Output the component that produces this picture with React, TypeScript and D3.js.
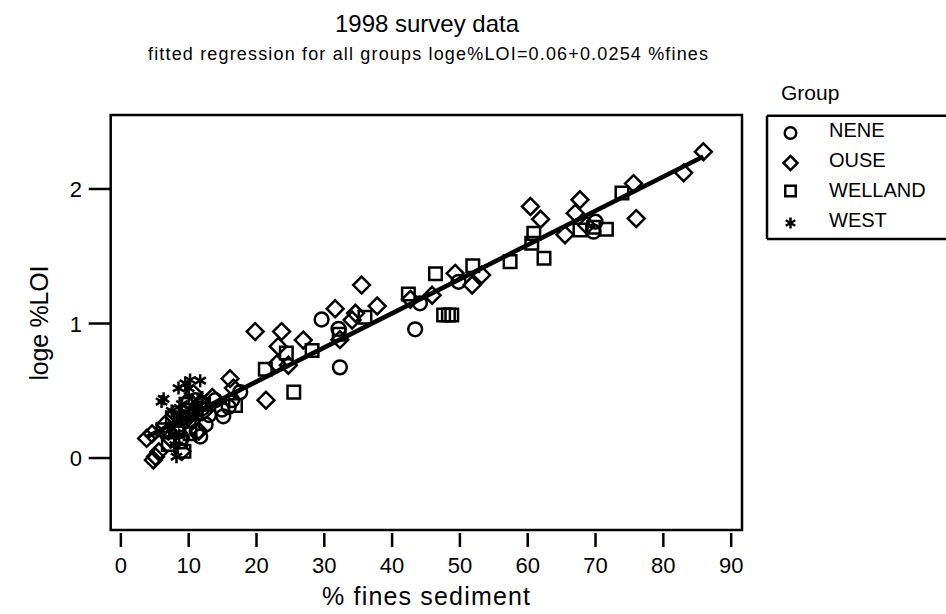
import React from "react";
import * as d3 from "d3";

const WIDTH = 946,
  HEIGHT = 614;
const FONT = "'Liberation Sans', Arial, sans-serif";

// chart text
const TITLE = "1998 survey data";
const SUBTITLE = "fitted regression for all groups loge%LOI=0.06+0.0254 %fines";
const X_LABEL = "% fines sediment";
const Y_LABEL = "loge %LOI";
const LEGEND_TITLE = "Group";
const GROUPS = ["NENE", "OUSE", "WELLAND", "WEST"];

const X_TICKS = [0, 10, 20, 30, 40, 50, 60, 70, 80, 90];
const Y_TICKS = [0, 1, 2];

// fitted regression for all groups
const INTERCEPT = 0.06,
  SLOPE = 0.0254;

// [% fines, loge %LOI]
const nene = [
  [8.5, 0.2], [9.2, 0.3], [9.8, 0.35], [10.5, 0.28], [11.2, 0.2], [11.7, 0.16],
  [12.0, 0.37], [11.0, 0.43], [13.9, 0.43], [14.9, 0.36], [15.1, 0.31], [15.9, 0.38],
  [16.4, 0.43], [17.6, 0.49], [12.5, 0.25], [10.0, 0.42], [9.0, 0.15], [13.0, 0.32],
  [29.6, 1.03], [32.1, 0.96], [32.3, 0.674], [43.4, 0.957], [44.1, 1.15], [49.8, 1.31],
  [70.0, 1.757], [69.7, 1.683]
];
const ouse = [
  [3.8, 0.146], [4.6, 0.18], [5.1, 0.01], [5.6, 0.047], [4.8, -0.015], [6.5, 0.25],
  [7.2, 0.15], [8.0, 0.33], [9.5, 0.28], [10.7, 0.48], [11.5, 0.2], [12.3, 0.35],
  [13.5, 0.45], [16.1, 0.59], [16.6, 0.52], [9.0, 0.05], [7.0, 0.2], [19.8, 0.94],
  [23.7, 0.94], [21.4, 0.43], [23.2, 0.83], [23.0, 0.7], [24.7, 0.69], [26.9, 0.877],
  [31.6, 1.11], [34.6, 1.076], [34.1, 1.026], [35.5, 1.286], [37.8, 1.13], [32.3, 0.88],
  [42.7, 1.18], [45.9, 1.21], [49.3, 1.373], [53.2, 1.36], [51.8, 1.286], [60.4, 1.87],
  [61.9, 1.775], [65.5, 1.66], [67.7, 1.92], [67.0, 1.82], [68.7, 1.73], [75.6, 2.04],
  [76.0, 1.78], [83.0, 2.12], [85.9, 2.277]
];
const welland = [
  [6.2, 0.21], [7.0, 0.1], [7.6, 0.3], [8.3, 0.22], [8.8, 0.12], [9.3, 0.05],
  [9.6, 0.4], [10.2, 0.18], [11.0, 0.33], [12.2, 0.4], [8.8, 0.28], [16.9, 0.39],
  [21.3, 0.66], [24.4, 0.78], [25.5, 0.49], [28.2, 0.8], [32.2, 0.92], [36.0, 1.046],
  [42.4, 1.22], [46.4, 1.37], [47.6, 1.063], [48.3, 1.063], [48.8, 1.063], [51.9, 1.43],
  [57.4, 1.46], [62.4, 1.485], [60.6, 1.596], [60.9, 1.67], [67.7, 1.695], [69.7, 1.715],
  [71.6, 1.7], [73.9, 1.97]
];
const west = [
  [6.0, 0.42], [6.3, 0.44], [8.5, 0.52], [9.5, 0.555], [10.0, 0.52], [10.2, 0.58],
  [11.7, 0.575], [8.0, 0.097], [8.2, 0.01], [7.5, 0.35], [9.0, 0.4], [10.8, 0.38],
  [7.8, 0.25], [8.6, 0.17], [12.0, 0.45], [11.0, 0.3]
];

const SERIES = [nene, ouse, welland, west];
const SYMBOLS = [
  { type: d3.symbolCircle, size: 150 },
  { type: d3.symbolDiamond2, size: 180 },
  { type: d3.symbolSquare2, size: 200 },
  { type: d3.symbolAsterisk, size: 120 }
];

// plot frame in page pixels
const frame = { left: 110.7, right: 742, top: 115, bottom: 530 };

export default class App extends React.Component {
  _rootNode: SVGSVGElement | null = null;

  componentDidMount() {
    const svg = d3.select(this._rootNode);
    svg.selectAll("*").remove();

    const x = d3.scaleLinear().domain([-1.5, 91.6]).range([frame.left, frame.right]);
    const y = d3.scaleLinear().domain([-0.535, 2.55]).range([frame.bottom, frame.top]);

    const text = (s: string, px: number, py: number, size: number, anchor = "middle") =>
      svg
        .append("text")
        .attr("x", px)
        .attr("y", py)
        .attr("text-anchor", anchor)
        .attr("font-family", FONT)
        .attr("font-size", size)
        .attr("fill", "#000")
        .text(s);

    // titles
    text(TITLE, 427, 32, 24);
    text(SUBTITLE, 428, 60, 18).attr("textLength", 560).attr("lengthAdjust", "spacing");

    // frame
    svg
      .append("rect")
      .attr("x", frame.left)
      .attr("y", frame.top)
      .attr("width", frame.right - frame.left)
      .attr("height", frame.bottom - frame.top)
      .attr("fill", "none")
      .attr("stroke", "#000")
      .attr("stroke-width", 2.5);

    // x axis: detached ticks under the frame
    svg
      .append("g")
      .selectAll("line")
      .data(X_TICKS)
      .enter()
      .append("line")
      .attr("x1", d => x(d))
      .attr("x2", d => x(d))
      .attr("y1", frame.bottom + 3)
      .attr("y2", frame.bottom + 17)
      .attr("stroke", "#000")
      .attr("stroke-width", 2.5);
    X_TICKS.forEach(d => text(String(d), x(d), 573, 22));
    text(X_LABEL, 426, 605, 25).attr("textLength", 208).attr("lengthAdjust", "spacing");

    // y axis: ticks attached to the frame
    svg
      .append("g")
      .selectAll("line")
      .data(Y_TICKS)
      .enter()
      .append("line")
      .attr("x1", frame.left - 22)
      .attr("x2", frame.left)
      .attr("y1", d => y(d))
      .attr("y2", d => y(d))
      .attr("stroke", "#000")
      .attr("stroke-width", 2.5);
    Y_TICKS.forEach(d => text(String(d), 82, y(d) + 8, 22, "end"));
    text(Y_LABEL, 0, 0, 25)
      .attr("transform", `translate(48, 323) rotate(-90)`)
      .attr("textLength", 115)
      .attr("lengthAdjust", "spacing");

    // regression line over the data range
    const all = SERIES.flat();
    const [x0, x1] = d3.extent(all, d => d[0]) as [number, number];
    const line = d3
      .line<number>()
      .x(d => x(d))
      .y(d => y(INTERCEPT + SLOPE * d));
    svg
      .append("path")
      .attr("d", line([x0, x1]))
      .attr("fill", "none")
      .attr("stroke", "#000")
      .attr("stroke-width", 4.5);

    // points
    SERIES.forEach((data, i) => {
      const sym = d3.symbol().type(SYMBOLS[i].type).size(SYMBOLS[i].size);
      svg
        .append("g")
        .selectAll("path")
        .data(data)
        .enter()
        .append("path")
        .attr("transform", d => `translate(${x(d[0])}, ${y(d[1])})`)
        .attr("d", sym())
        .attr("fill", "none")
        .attr("stroke", "#000")
        .attr("stroke-width", 2.5);
    });

    // legend
    text(LEGEND_TITLE, 781, 100, 21, "start");
    const lg = svg.append("g");
    lg.append("line").attr("x1", 767).attr("x2", WIDTH).attr("y1", 115.7).attr("y2", 115.7);
    lg.append("line").attr("x1", 767).attr("x2", WIDTH).attr("y1", 239).attr("y2", 239);
    lg.append("line").attr("x1", 767).attr("x2", 767).attr("y1", 115.7).attr("y2", 239);
    lg.selectAll("line").attr("stroke", "#000").attr("stroke-width", 2.5);
    const rowY = [133, 163, 191, 223];
    const textY = [137, 167, 197, 226.5];
    GROUPS.forEach((g, i) => {
      const sym = d3.symbol().type(SYMBOLS[i].type).size(SYMBOLS[i].size * 0.7);
      lg.append("path")
        .attr("transform", `translate(790.5, ${rowY[i]})`)
        .attr("d", sym())
        .attr("fill", "none")
        .attr("stroke", "#000")
        .attr("stroke-width", 2.5);
      text(g, 829, textY[i], 20, "start");
    });
  }
  shouldComponentUpdate() {
    return false;
  }
  _setRef = (node: SVGSVGElement | null) => {
    this._rootNode = node;
  };
  render() {
    return (
      <svg
        ref={this._setRef}
        width={WIDTH}
        height={HEIGHT}
        style={{ position: "absolute", left: 0, top: 0, background: "#fff" }}
      />
    );
  }
}
